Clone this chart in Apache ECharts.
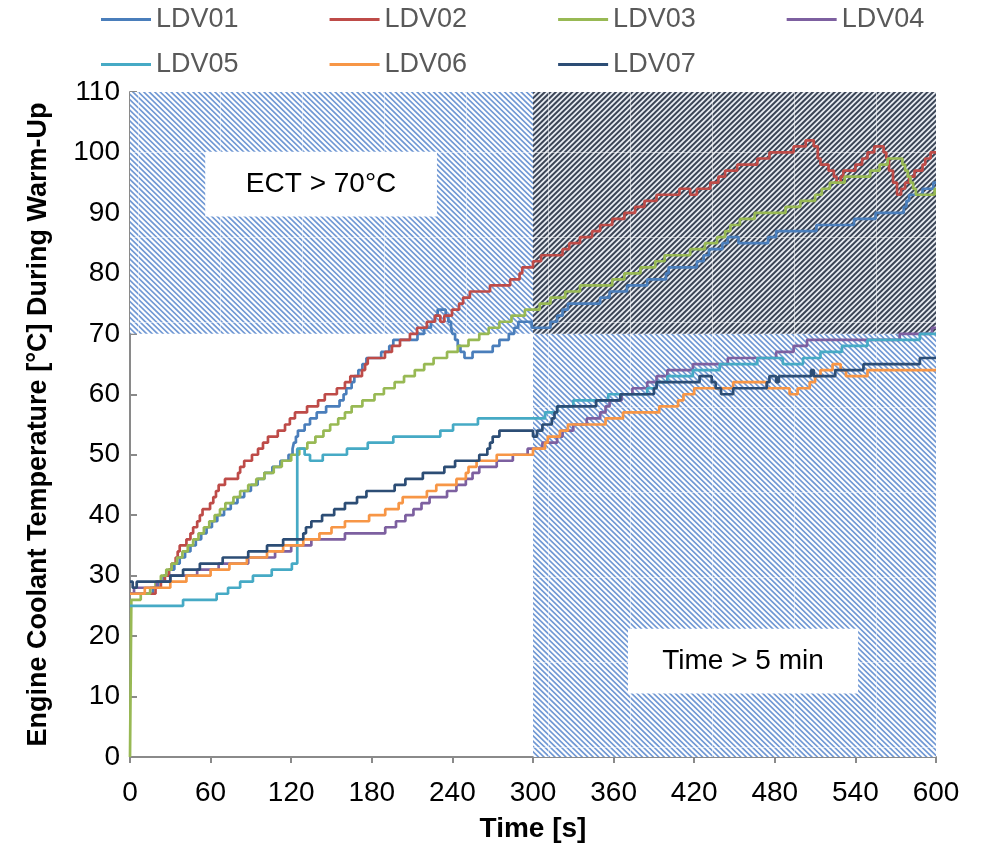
<!DOCTYPE html>
<html>
<head>
<meta charset="utf-8">
<script src="https://cdn.jsdelivr.net/npm/echarts@6/dist/echarts.min.js"></script>
<style>
  html, body { margin: 0; padding: 0; background: #fff; }
  #main { width: 983px; height: 848px; }
</style>
</head>
<body>
<div id="main"></div>
<script>
// Engine coolant temperature traces, [time s, temperature °C] at each step change
const seriesNames = ['LDV01', 'LDV02', 'LDV03', 'LDV04', 'LDV05', 'LDV06', 'LDV07'];

const ldv01 = [[0,27],[17,28],[21,29],[25,30],[29,31],[33,32],[37,33],[41,34],[45,35],[49,36],[53,37],[57,38],[61,39],[65,40],[70,41],[75,42],[80,43],[85,44],[90,45],[95,46],[100,47],[106,48],[112,49],[118,50],[121,51],[122,52],[123.5,53],[125,54],[130,55],[134,56],[139,57],[146,58],[156,59],[159,60],[161,61],[165,62],[167,63],[170,64],[173,65],[176,66],[187,67],[193,68],[196,69],[214,70],[219,71],[224,72],[227,73],[229,74],[235,73],[237,72],[239,71],[240,70],[242,69],[244,68],[246,67],[249,66],[255,67],[270,68],[275,69],[282,70],[286,71],[289,72],[299,71],[313,72],[318,73],[322,74],[326,75],[350,76],[357,77],[370,78],[385,79],[399,80],[401,81],[422,82],[427,83],[431,84],[441,85],[445,86],[453,85],[475,86],[481,87],[511,88],[539,89],[555,90],[576,91],[578,92],[580,93],[590,94],[598,95],[600,95]];

const ldv02 = [[0,27],[19,28],[23,29],[26,30],[29,31],[31,32],[34,33],[35.5,34],[37,35],[42,36],[45,37],[47,38],[50,39],[52,40],[54,41],[59.6,42],[62,43],[64,44],[66,45],[70.7,46],[80.4,47],[82,48],[85,49],[90.8,50],[95.3,51],[99,52],[102.7,53],[110,54],[115.4,55],[119,56],[122.8,57],[131.8,58],[140,59],[145,60],[154,61],[160,62],[164,63],[172.7,64],[175,65],[177,66],[189.8,67],[195,68],[201,69],[208.4,70],[213.7,71],[221,72],[227,73],[231,72],[234,73],[239.7,74],[245,75],[248,76],[253,77],[268,78],[283,79],[290,80],[292,81],[300,82],[306,83],[322,84],[327,85],[335,86],[344,87],[350,88],[359,89],[368,90],[376,91],[383,92],[392,93],[409,94],[417,93],[422,94],[432,95],[438,96],[443,97],[452,98],[467,99],[476,100],[494,101],[503,102],[509,101],[512,99],[514,98],[520,97],[524,96],[526,95],[529,96],[531,97],[540,98],[545,99],[549,100],[554,101],[561,100],[563,99],[565,97],[568,95],[571,93],[574,94],[577,95],[580,96],[584,97],[590,98],[592,99],[596,100],[600,100]];

const ldv03 = [[0,0],[1,26],[8,27],[15,28],[19,29],[23,30],[27,31],[31,32],[35,33],[39,34],[43,35],[47,36],[51,37],[55,38],[59,39],[63,40],[67,41],[71,42],[77,43],[82,44],[88,45],[94,46],[100,47],[107,48],[113,49],[120,50],[126,51],[132,52],[138,53],[144,54],[149,55],[155,56],[160,57],[165,58],[173,59],[182,60],[189,61],[197,62],[204,63],[212,64],[219,65],[226,66],[236,67],[244,68],[252,69],[260,70],[267,71],[275,72],[284,73],[294,74],[305,75],[313,76],[324,77],[335,78],[359,79],[368,80],[380,81],[391,82],[398,83],[417,84],[428,85],[437,86],[443,87],[447,88],[454,89],[465,90],[488,91],[499,92],[510,93],[515,94],[521,95],[532,96],[551,97],[558,98],[564,99],[575,98],[577,97],[579,96],[581,95],[583,94],[585,93],[599,94],[600,94]];

const ldv04 = [[0,27],[3,28],[20,29],[30,30],[50,31],[66,32],[88,33],[108,34],[120,35],[135,36],[160,37],[190,38],[198,39],[205,40],[211,41],[217,42],[223,43],[236,44],[243,45],[250,46],[255,47],[260,48],[273,49],[285,50],[296,51],[307,52],[318,53],[322,54],[330,55],[340,56],[350,57],[354,58],[357,59],[366,60],[374,61],[385,62],[392,63],[400,64],[419,65],[445,66],[481,67],[494,68],[504,69],[573,70],[597,71],[600,71]];

const ldv05 = [[0,25],[39.5,26],[64.5,27],[73,28],[82,29],[91.5,30],[105.5,31],[120.5,32],[124.5,51],[130,50],[134,49],[143.5,50],[161.5,51],[177,52],[196,53],[231,54],[240.5,55],[259,56],[309,57],[318,58],[330,59],[356,60],[385,61],[392,62],[400,63],[419,64],[439,65],[467,66],[486,65],[501,66],[514,67],[530,68],[549,69],[588,70],[600,70]];

const ldv06 = [[0,27],[11,28],[30,29],[42,30],[60,31],[74,32],[87,33],[102,34],[114,35],[129,36],[141,37],[150,38],[160,39],[178,40],[190,41],[200,42],[203,43],[221,44],[228,45],[243,46],[250,47],[252,48],[258,49],[273,50],[300,51],[309,52],[311,53],[320,54],[326,55],[354,56],[367,57],[394,58],[408,59],[412,60],[420,61],[449,62],[474,61],[491,60],[497,61],[506,62],[510,63],[514,64],[523,65],[529,64],[533,63],[549,64],[600,64]];

const ldv07 = [[0,29],[2,28],[5,29],[30,30],[39.5,31],[52,32],[69,33],[88,34],[102,35],[114,36],[129,37],[131,38],[135,39],[143,40],[152,41],[160,42],[169,43],[176,44],[197,45],[205,46],[218,47],[234,48],[242,49],[260,50],[266,51],[268,52],[270,53],[275,54],[300,53],[303,54],[307,55],[314,56],[316,57],[318,58],[347,59],[365,60],[390,61],[392,62],[424,63],[433,62],[436,61],[440,60],[449,61],[474,62],[476,63],[481,62],[483,63],[507,64],[509,63],[525,64],[546,65],[588,66],[600,66]];

const seriesData = [ldv01, ldv02, ldv03, ldv04, ldv05, ldv06, ldv07];
const seriesColors = ['#4a7ebb', '#be4b48', '#98b954', '#7d60a0', '#46aac5', '#f79646', '#2c4d75'];

// Warm-up criteria
const ectThreshold = 70;    // °C
const timeThreshold = 300;  // s
const xMax = 600, yMax = 110;
const xTicks = { min: 0, max: xMax, interval: 60 };
const yTicks = { min: 0, max: yMax, interval: 10 };
const labelA = 'ECT > 70°C';
const labelB = 'Time > 5 min';

const FONT = '"Liberation Sans", Arial, sans-serif';

// Diagonal hatch tile, with faint seams like a tiled texture fill
function hatchTile(dir, lineColor, base, lw) {
  const w = 82, h = 85;
  const c = document.createElement('canvas');
  c.width = w; c.height = h;
  const g = c.getContext('2d');
  g.fillStyle = base;
  g.fillRect(0, 0, w, h);
  const sx = w / 15, sy = h / 16;
  g.strokeStyle = lineColor;
  g.lineWidth = lw;
  for (let k = -25; k <= 40; k++) {
    const y0 = -2 * sy, y1 = h + 2 * sy;
    let x0, x1;
    if (dir === 'back') { x0 = sx * (k + y0 / sy); x1 = sx * (k + y1 / sy); }
    else { x0 = sx * (k - y0 / sy); x1 = sx * (k - y1 / sy); }
    g.beginPath(); g.moveTo(x0, y0); g.lineTo(x1, y1); g.stroke();
  }
  g.fillStyle = 'rgba(255,255,255,0.5)';
  g.fillRect(56, 0, 1, h);
  g.fillRect(0, 67, w, 1);
  return c;
}
const blueHatch = { image: hatchTile('back', '#7098d4', '#ffffff', 1.7), repeat: 'repeat' };
const darkHatch = { image: hatchTile('fwd', '#3b4556', '#e8ecf2', 2.0), repeat: 'repeat' };

const chart = echarts.init(document.getElementById('main'), null, { renderer: 'canvas' });

const lineSeries = seriesNames.map((name, i) => ({
  name,
  type: 'line',
  step: 'end',
  data: seriesData[i],
  showSymbol: false,
  symbol: 'none',
  z: 3,
  lineStyle: { width: 2.7, color: seriesColors[i] },
  itemStyle: { color: seriesColors[i] },
  emphasis: { disabled: true }
}));

const zoneSeries = {
  name: 'zones',
  type: 'line',
  data: [],
  z: 1,
  silent: true,
  markArea: {
    silent: true,
    label: { show: false },
    data: [
      [{ xAxis: 0, yAxis: ectThreshold, itemStyle: { color: blueHatch } }, { xAxis: timeThreshold, yAxis: yMax }],
      [{ xAxis: timeThreshold, yAxis: 0, itemStyle: { color: blueHatch } }, { xAxis: xMax, yAxis: ectThreshold }],
      [{ xAxis: timeThreshold, yAxis: ectThreshold, itemStyle: { color: darkHatch } }, { xAxis: xMax, yAxis: yMax }]
    ]
  }
};

// White label boxes for the two criteria
const boxLabel = { show: true, position: 'inside', fontSize: 28, color: '#000', fontFamily: FONT };
const labelSeries = {
  name: 'criteria',
  type: 'line',
  data: [],
  z: 2,
  silent: true,
  markArea: {
    silent: true,
    itemStyle: { color: '#ffffff', opacity: 1 },
    label: boxLabel,
    data: [
      [{ name: labelA, xAxis: 56, yAxis: 100.1 }, { xAxis: 228.5, yAxis: 89.4 }],
      [{ name: labelB, xAxis: 370.7, yAxis: 21.2 }, { xAxis: 542, yAxis: 10.5 }]
    ]
  }
};

const legendBase = {
  left: 101,
  padding: 0,
  itemWidth: 50,
  itemHeight: 3,
  itemGap: 91,
  icon: 'rect',
  selectedMode: false,
  textStyle: { fontSize: 27, color: '#595959', fontFamily: FONT }
};

const axisLine = { show: true, lineStyle: { color: '#8a8a8a', width: 2 } };

chart.setOption({
  animation: false,
  backgroundColor: '#ffffff',
  grid: { left: 130, right: 47, top: 92, bottom: 87, containLabel: false },
  legend: [
    Object.assign({}, legendBase, { top: 6, data: seriesNames.slice(0, 4) }),
    Object.assign({}, legendBase, { top: 51, data: seriesNames.slice(4) })
  ],
  xAxis: {
    type: 'value',
    min: xTicks.min, max: xTicks.max, interval: xTicks.interval,
    name: 'Time [s]',
    nameLocation: 'middle',
    nameGap: 58,
    nameTextStyle: { fontSize: 28, fontWeight: 'bold', color: '#000', fontFamily: FONT },
    axisLine,
    axisTick: { show: true, inside: false, length: 6, lineStyle: { color: '#8a8a8a', width: 2 } },
    axisLabel: { fontSize: 28, color: '#000', fontFamily: FONT, margin: 22 },
    splitLine: { show: false }
  },
  yAxis: {
    type: 'value',
    min: yTicks.min, max: yTicks.max, interval: yTicks.interval,
    name: 'Engine Coolant Temperature [°C] During Warm-Up',
    nameLocation: 'middle',
    nameGap: 78,
    nameTextStyle: { fontSize: 27, fontWeight: 'bold', color: '#000', fontFamily: FONT },
    axisLine,
    axisTick: { show: true, inside: true, length: 7, lineStyle: { color: '#8a8a8a', width: 2 } },
    axisLabel: { fontSize: 28, color: '#000', fontFamily: FONT, margin: 10 },
    splitLine: { show: false }
  },
  series: [zoneSeries, labelSeries].concat(lineSeries)
});
</script>
</body>
</html>
